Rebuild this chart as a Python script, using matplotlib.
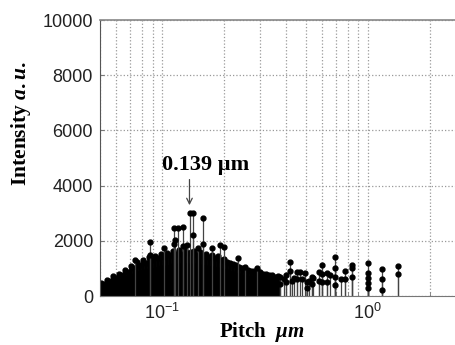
import matplotlib.pyplot as plt
from matplotlib.ticker import LogLocator, NullFormatter

plt.rcParams['font.family'] = ['Liberation Sans', 'DejaVu Sans']
plt.rcParams['mathtext.fontset'] = 'custom'
plt.rcParams['mathtext.rm'] = 'Liberation Serif:bold'
plt.rcParams['mathtext.it'] = 'Liberation Serif:italic:bold'
plt.rcParams['mathtext.bf'] = 'Liberation Serif:bold'

# dense cluster of small peaks: pitch (um), top marker and an inner marker
cloud_pitch = [0.0505, 0.0522, 0.054, 0.0558, 0.0577, 0.0597, 0.0617, 0.0638, 0.066, 0.0682,
               0.0705, 0.0729, 0.0754, 0.078, 0.0807, 0.0834, 0.0862, 0.0892, 0.0922, 0.0954,
               0.0986, 0.102, 0.1055, 0.109, 0.1128, 0.1166, 0.1206, 0.1247, 0.129, 0.1334,
               0.1379, 0.1426, 0.1475, 0.1525, 0.1577, 0.1631, 0.1687, 0.1744, 0.1804, 0.1865,
               0.1929, 0.1995, 0.2063, 0.2133, 0.2206, 0.2281, 0.2359, 0.244, 0.2523, 0.2609,
               0.2698, 0.279, 0.2885, 0.2984, 0.3085, 0.319, 0.33, 0.341, 0.353, 0.365]
cloud_top = [470, 430, 590, 560, 720, 650, 800, 760, 930, 870,
             1080, 1000, 1230, 1120, 1310, 1190, 1400, 1290, 1460, 1360,
             1520, 1420, 1570, 1470, 1640, 1520, 1660, 1540, 1650, 1560,
             1610, 1640, 1500, 1600, 1460, 1540, 1420, 1500, 1360, 1450,
             1290, 1330, 1230, 1200, 1160, 1120, 1040, 1020, 960, 960,
             900, 900, 840, 870, 800, 800, 760, 760, 700, 720]
cloud_inner = [300, 340, 380, 410, 450, 470, 520, 540, 600, 620,
               700, 740, 800, 780, 860, 830, 920, 890, 960, 930,
               1000, 970, 1030, 1000, 1080, 1040, 1100, 1060, 1080, 1070,
               1060, 1090, 1030, 1060, 1000, 1020, 980, 990, 940, 960,
               890, 870, 860, 800, 810, 740, 720, 670, 680, 630,
               640, 590, 600, 570, 580, 520, 550, 500, 510, 470]

# taller isolated peaks; a repeated pitch puts several markers on one stem
peak_pitch = [0.0742, 0.0877, 0.0877, 0.1018, 0.1138, 0.1138, 0.116, 0.119, 0.1265, 0.1265,
              0.1322, 0.137, 0.141, 0.141, 0.150, 0.1575, 0.1575, 0.1748, 0.192, 0.200,
              0.2353, 0.254, 0.289, 0.375, 0.375, 0.39, 0.40, 0.40, 0.42, 0.42,
              0.43, 0.44, 0.452, 0.452, 0.469, 0.48, 0.496, 0.505, 0.505, 0.52,
              0.535, 0.535, 0.544, 0.576, 0.576, 0.598, 0.598, 0.598, 0.632, 0.632,
              0.656, 0.689, 0.689, 0.689, 0.689, 0.74, 0.776, 0.776, 0.842, 0.842,
              0.842, 1.006, 1.006, 1.006, 1.006, 1.006, 1.165, 1.165, 1.165, 1.396, 1.396]
peak_int = [1300, 1970, 1500, 1727, 2450, 1900, 2030, 2450, 2510, 1800,
            1850, 3000, 3000, 2200, 1750, 2815, 1900, 1728, 1848, 1786,
            1365, 1063, 1003, 700, 450, 620, 760, 500, 1243, 900,
            560, 650, 880, 600, 880, 600, 820, 520, 300, 560,
            700, 450, 640, 880, 550, 1123, 800, 500, 820, 500,
            760, 1400, 1000, 700, 400, 620, 917, 620, 1123, 1000,
            700, 1208, 820, 640, 460, 280, 978, 605, 217, 1098, 800]

y_ticks = [0, 2000, 4000, 6000, 8000, 10000]
x_ticks = [0.1, 1]
x_ticklabels = [r'$\mathregular{10^{-1}}$', r'$\mathregular{10^{0}}$']

fig = plt.figure(figsize=(4.55, 3.45), dpi=100)
ax = fig.add_axes([0.2198, 0.142, 0.7802, 0.8])
ax.set_xscale('log')

for px, py, lw, col in [(cloud_pitch, cloud_top, 2.7, 'black'),
                        (cloud_pitch, cloud_inner, 2.7, 'black'),
                        (peak_pitch, peak_int, 0.9, '#444')]:
    markers, stems, base = ax.stem(px, py, linefmt='-', markerfmt='o', basefmt=' ')
    plt.setp(stems, color=col, linewidth=lw)
    plt.setp(markers, color='black', markersize=3.5)

ax.set_xlim(0.05, 2.65)
ax.set_ylim(0, 10000)
ax.set_yticks(y_ticks)
ax.set_xticks(x_ticks)
ax.set_xticklabels(x_ticklabels)
ax.xaxis.set_minor_locator(LogLocator(base=10, subs=range(2, 10)))
ax.xaxis.set_minor_formatter(NullFormatter())

ax.grid(True, which='both', axis='x', linestyle=':', color='#999', linewidth=0.9)
ax.grid(True, which='major', axis='y', linestyle=':', color='#999', linewidth=0.9)
ax.set_axisbelow(True)

ax.tick_params(axis='both', which='both', direction='in', length=3, color='#777',
               labelsize=13, labelcolor='#222', pad=5)
ax.spines['right'].set_visible(False)
ax.spines['top'].set_color('#888')
ax.spines['top'].set_linewidth(1.2)
ax.spines['left'].set_color('#555')
ax.spines['bottom'].set_color('#777')

ax.set_ylabel('Intensity $a.u.$', family='Liberation Serif', weight='bold', fontsize=15.5)
ax.yaxis.set_label_coords(-0.19, 0.623)
ax.set_xlabel(r'Pitch  $\mu m$', family='Liberation Serif', weight='bold', fontsize=15)
ax.xaxis.set_label_coords(0.456, -0.088)

ax.annotate('', xy=(0.136, 3190), xytext=(0.136, 4320),
            arrowprops=dict(arrowstyle='->', color='#444', lw=0.9))
ax.text(0.1637, 4565, '0.139 µm', family='Liberation Serif', weight='bold',
        fontsize=16, ha='center', va='baseline')

fig.savefig('out.png', dpi=100)
